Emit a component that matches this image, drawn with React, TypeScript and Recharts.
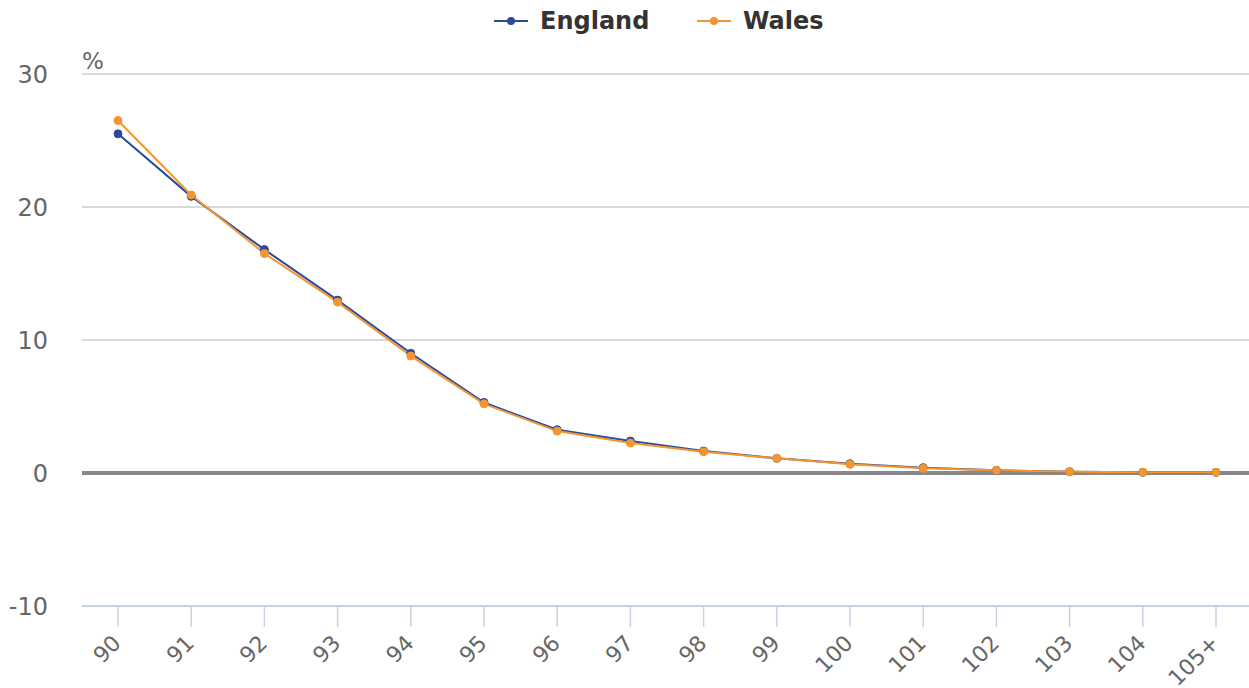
import { LineChart, Line, XAxis, YAxis, CartesianGrid, ReferenceLine } from 'recharts';

const ages = ['90', '91', '92', '93', '94', '95', '96', '97', '98', '99', '100', '101', '102', '103', '104', '105+'];
const england = [25.5, 20.8, 16.8, 13.0, 9.0, 5.3, 3.25, 2.4, 1.65, 1.1, 0.7, 0.4, 0.2, 0.1, 0.05, 0.05];
const wales = [26.5, 20.9, 16.5, 12.85, 8.8, 5.2, 3.15, 2.25, 1.6, 1.1, 0.65, 0.35, 0.2, 0.1, 0.05, 0.05];
const yTicks = [-10, 0, 10, 20, 30];

const data = ages.map((age, i) => ({ age, England: england[i], Wales: wales[i] }));

const FONT = '"DejaVu Sans", sans-serif';
const BLUE = '#2a4b9b';
const ORANGE = '#f39530';

const AgeTick = ({ x, y, payload }: any) => (
  <g transform={`translate(${x},${y})`}>
    <text x={-8} y={0} dy={14} textAnchor="end" transform="rotate(-45)" fill="#666" fontSize={22} fontFamily={FONT}>
      {payload.value}
    </text>
  </g>
);

const LegendItem = ({ color, label, left }: { color: string; label: string; left: number }) => (
  <div style={{ position: 'absolute', left, top: 6, height: 30, display: 'flex', alignItems: 'center' }}>
    <svg width={36} height={20}>
      <line x1={0} y1={10} x2={34} y2={10} stroke={color} strokeWidth={2} />
      <circle cx={17} cy={10} r={4} fill={color} />
    </svg>
    <span style={{ marginLeft: 10, fontFamily: FONT, fontWeight: 'bold', fontSize: 24, color: '#333', lineHeight: '30px' }}>{label}</span>
  </div>
);

const App = () => {
  return (
    <div style={{ position: 'absolute', left: 0, top: 0, width: 1249, height: 688, background: '#fff' }}>
      <LegendItem color={BLUE} label="England" left={494} />
      <LegendItem color={ORANGE} label="Wales" left={697} />
      <div style={{ position: 'absolute', left: 82, top: 48, fontFamily: FONT, fontSize: 23, color: '#666' }}>%</div>
      <LineChart width={1249} height={688} data={data} margin={{ top: 74, right: 0, bottom: 0, left: 0 }}>
        <CartesianGrid vertical={false} stroke="#d9d9d9" strokeWidth={2} />
        <XAxis
          dataKey="age"
          height={82}
          padding={{ left: 36, right: 33 }}
          interval={0}
          axisLine={{ stroke: '#c5d3e3', strokeWidth: 2 }}
          tickLine={{ stroke: '#c5d3e3', strokeWidth: 1.5 }}
          tickSize={21}
          tick={<AgeTick />}
        />
        <YAxis
          width={82}
          domain={[-10, 30]}
          ticks={yTicks}
          axisLine={false}
          tickLine={false}
          tickSize={0}
          tickMargin={34}
          tick={{ fill: '#666', fontSize: 24, fontFamily: FONT }}
        />
        <ReferenceLine y={0} stroke="#888" strokeWidth={4} />
        <Line
          dataKey="England"
          stroke={BLUE}
          strokeWidth={2}
          dot={{ r: 4, fill: BLUE, stroke: BLUE, strokeWidth: 1 }}
          isAnimationActive={false}
        />
        <Line
          dataKey="Wales"
          stroke={ORANGE}
          strokeWidth={2}
          dot={{ r: 4, fill: ORANGE, stroke: ORANGE, strokeWidth: 1 }}
          isAnimationActive={false}
        />
      </LineChart>
    </div>
  );
};

export default App;
